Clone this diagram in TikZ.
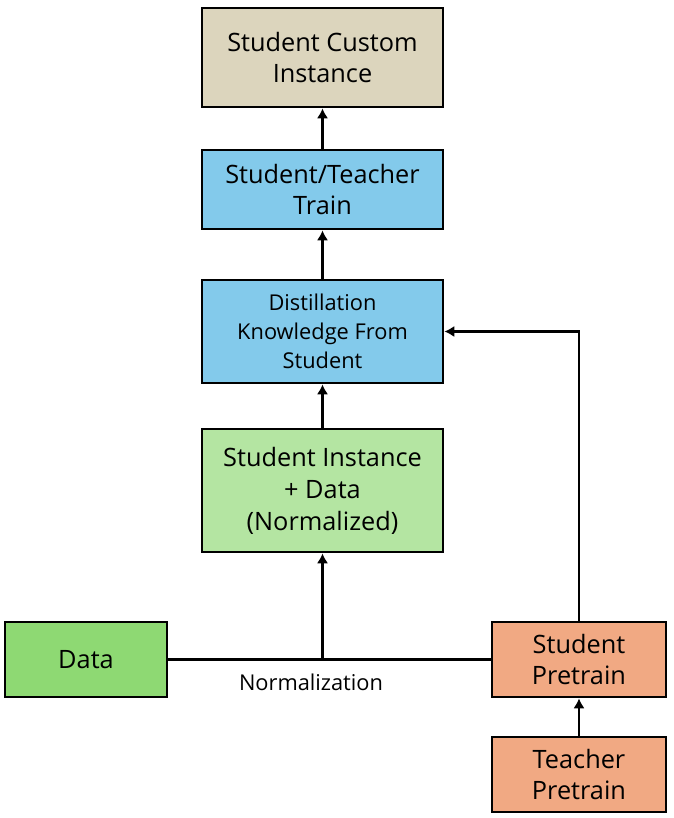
\documentclass[tikz,border=0pt]{standalone}
\usepackage{fontspec}
\setmainfont{Open Sans}
\usepackage{xcolor}
\usetikzlibrary{arrows.meta}
\definecolor{tanbox}{HTML}{DCD5BD}
\definecolor{bluebox}{HTML}{83CAEB}
\definecolor{greenlight}{HTML}{B4E5A2}
\definecolor{greendark}{HTML}{8ED973}
\definecolor{orangebox}{HTML}{F1A983}
\tikzset{stage/.style={draw, line width=2pt, align=center, font=\fontsize{18}{22.7}\selectfont,
         inner sep=0pt},
         link/.style={line width=2pt, -{Latex[length=7pt,width=8pt]}}}

\begin{document}
\begin{tikzpicture}[x=0.025cm, y=-0.025cm]
\useasboundingbox (0,0) rectangle (673,818);
\node[stage, fill=tanbox, minimum width=6.025cm, minimum height=2.475cm] (custom) at (322.5,57.5) {Student Custom\\Instance};
\node[stage, fill=bluebox, minimum width=6.025cm, minimum height=1.975cm] (train) at (322.5,189.5) {Student/Teacher\\Train};
\node[stage, fill=bluebox, minimum width=6.025cm, minimum height=2.575cm, font=\fontsize{15.5}{20.5}\selectfont] (distill) at (322.5,331.5) {Distillation\\Knowledge From\\Student};
\node[stage, fill=greenlight, minimum width=6.025cm, minimum height=3.075cm] (instance) at (322.5,490.5) {Student Instance\\+ Data\\(Normalized)};
\node[stage, fill=greendark, minimum width=4.05cm, minimum height=1.875cm] (data) at (86,659.5) {Data};
\node[stage, fill=orangebox, minimum width=4.35cm, minimum height=1.875cm] (spre) at (579,659.5) {Student\\Pretrain};
\node[stage, fill=orangebox, minimum width=4.35cm, minimum height=1.875cm] (tpre) at (579,774.5) {Teacher\\Pretrain};
\coordinate (join) at (322.5,659.5);
% arrows
\draw[link] (train) -- (custom);
\draw[link] (distill) -- (train);
\draw[link] (instance) -- (distill);
\draw[line width=2pt] (data) -- (join) -- (spre);
\draw[link] (join) -- (instance);
\node[font=\fontsize{15.5}{18}\selectfont] (norm) at (311,682) {Normalization};
\draw[link] (spre.north) |- (distill.east);
\draw[link] (tpre) -- (spre);
\end{tikzpicture}
\end{document}
